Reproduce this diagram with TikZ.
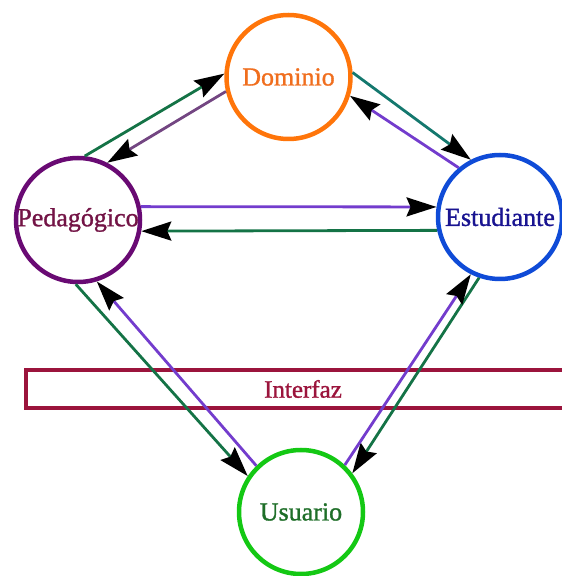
\documentclass[tikz,border=0pt]{standalone}
\usepackage{fontspec}
\setmainfont{Liberation Serif}[FakeBold=1.2]
\usetikzlibrary{arrows.meta, positioning}
\definecolor{domorange}{RGB}{255,117,10}
\definecolor{domtext}{RGB}{240,110,30}
\definecolor{pedpurple}{RGB}{105,10,115}
\definecolor{pedtext}{RGB}{115,20,70}
\definecolor{estblue}{RGB}{15,75,215}
\definecolor{esttext}{RGB}{25,20,145}
\definecolor{usugreen}{RGB}{20,200,20}
\definecolor{usutext}{RGB}{30,110,40}
\definecolor{intred}{RGB}{155,20,60}
\definecolor{linkgreen}{RGB}{20,115,70}
\definecolor{linkteal}{RGB}{20,120,110}
\definecolor{linkpurple}{RGB}{115,60,205}
\definecolor{linkmauve}{RGB}{115,70,130}

\begin{document}
\begin{tikzpicture}[x=1pt, y=1pt,
    agent/.style={draw, circle, line width=4.5pt, minimum size=124pt, inner sep=0pt, font=\fontsize{26}{30}\selectfont},
    link/.style={line width=2.8pt, -{Stealth[black, length=30pt, width=19pt, inset=4pt]}}]
        \useasboundingbox (0,0) rectangle (562,576);
        \node[draw=intred, text=intred, line width=4.5pt, minimum width=554pt, minimum height=38pt, font=\fontsize{25}{30}\selectfont] (interfaz) at (303,187) {Interfaz};
        \node[agent, draw=domorange, text=domtext] (dominio) at (288.5,499) {Dominio};
        \node[agent, draw=pedpurple, text=pedtext] (pedagogico) at (78,356) {Pedagógico};
        \node[agent, draw=estblue, text=esttext] (estudiante) at (500,359) {Estudiante};
        \node[agent, draw=usugreen, text=usutext] (usuario) at (301,64) {Usuario};

        \draw[link, linkgreen] (pedagogico.84) -- (dominio.177);
        \draw[link, linkmauve] (dominio.193) -- (pedagogico.63);
        \draw[link, linkteal] (dominio.4) -- (estudiante.117);
        \draw[link, linkpurple] (estudiante.130) -- (dominio.343);
        \draw[link, linkpurple] (pedagogico.12) -- (estudiante.171);
        \draw[link, linkgreen] (estudiante.192) -- (pedagogico.350);
        \draw[link, linkgreen] (pedagogico.268) -- (usuario.146);
        \draw[link, linkpurple] (usuario.134) -- (pedagogico.287);
        \draw[link, linkgreen] (estudiante.251) -- (usuario.37);
        \draw[link, linkpurple] (usuario.47) -- (estudiante.243);
    \end{tikzpicture}
\end{document}
